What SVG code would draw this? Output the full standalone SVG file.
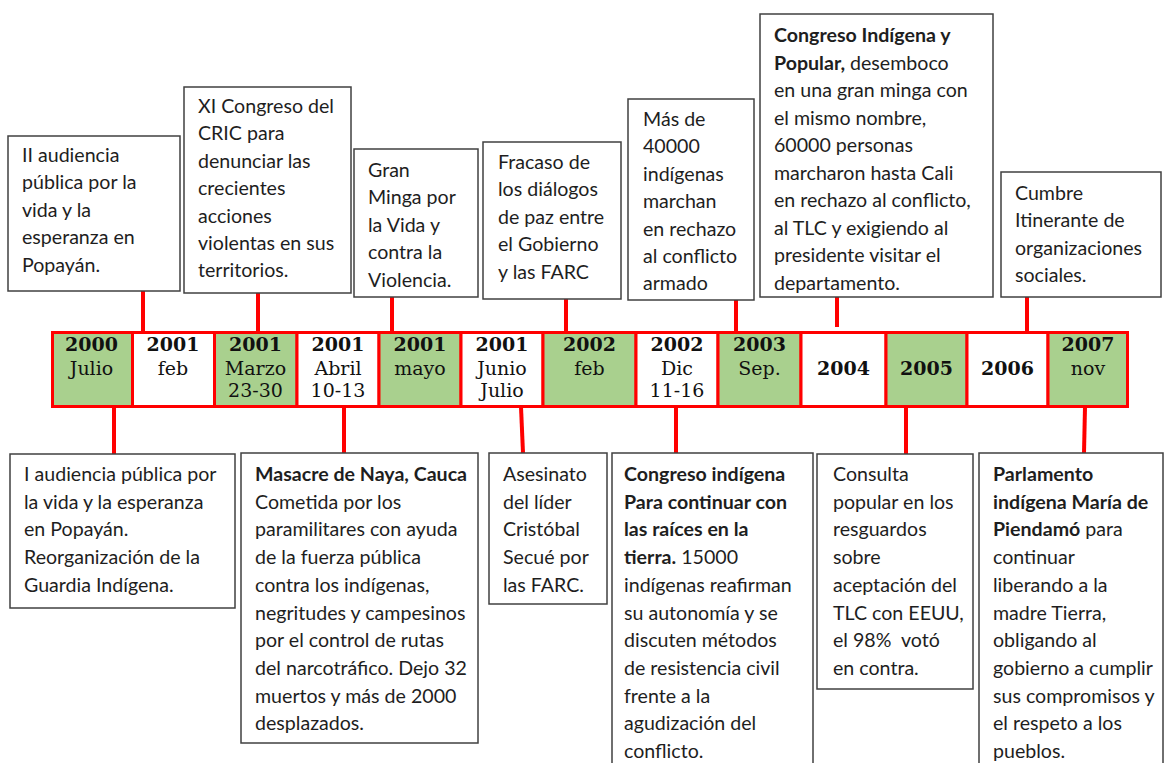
<svg xmlns="http://www.w3.org/2000/svg" width="1165" height="763" viewBox="0 0 1165 763">
<style>
.box{fill:#fff;stroke:#404040;stroke-width:1.5}
.t{font-family:Lato,"Open Sans","Liberation Sans",sans-serif;font-size:19.6px;fill:#1e1e1e}
.b{font-weight:bold}
.cell{stroke:#ff0000;stroke-width:3}
.g{fill:#a9d08e}
.w{fill:#fff}
.y{font-family:"DejaVu Serif","Liberation Serif",serif;font-size:19px;fill:#111;text-anchor:middle}
.yb{font-weight:bold}
.con{stroke:#ff0000;stroke-width:4;fill:none}
</style>
<rect width="1165" height="763" fill="#fff"/>
<g id="connectors">
<line class="con" x1="143" y1="290" x2="143" y2="332"/>
<line class="con" x1="258" y1="293" x2="258" y2="332"/>
<line class="con" x1="392" y1="297" x2="392" y2="332"/>
<line class="con" x1="566" y1="299" x2="566" y2="332"/>
<line class="con" x1="736" y1="300" x2="736" y2="332"/>
<line class="con" x1="837" y1="297" x2="837" y2="327"/>
<line class="con" x1="1027" y1="297" x2="1027" y2="332"/>
<line class="con" x1="114" y1="407" x2="114" y2="454"/>
<line class="con" x1="344" y1="407" x2="344" y2="453"/>
<line class="con" x1="521" y1="407" x2="523" y2="453"/>
<line class="con" x1="676" y1="407" x2="676" y2="453"/>
<line class="con" x1="906" y1="407" x2="906" y2="454"/>
<line class="con" x1="1085" y1="407" x2="1084" y2="453"/>
</g>
<g id="timeline">
<rect class="cell g" x="52.5" y="332.5" width="80" height="74"/>
<rect class="cell w" x="132.5" y="332.5" width="82" height="74"/>
<rect class="cell g" x="214.5" y="332.5" width="82.5" height="74"/>
<rect class="cell w" x="297" y="332.5" width="82" height="74"/>
<rect class="cell g" x="379" y="332.5" width="82" height="74"/>
<rect class="cell w" x="461" y="332.5" width="82" height="74"/>
<rect class="cell g" x="543" y="332.5" width="93" height="74"/>
<rect class="cell w" x="636" y="332.5" width="82" height="74"/>
<rect class="cell g" x="718" y="332.5" width="83" height="74"/>
<rect class="cell w" x="801" y="332.5" width="85" height="74"/>
<rect class="cell g" x="886" y="332.5" width="81" height="74"/>
<rect class="cell w" x="967" y="332.5" width="81" height="74"/>
<rect class="cell g" x="1048" y="332.5" width="79.5" height="74"/>
<text class="y yb" x="91.5" y="351">2000</text><text class="y" x="91.5" y="375">Julio</text>
<text class="y yb" x="173" y="351">2001</text><text class="y" x="173" y="375">feb</text>
<text class="y yb" x="255.5" y="351">2001</text><text class="y" x="255.5" y="375">Marzo</text><text class="y" x="255.5" y="397">23-30</text>
<text class="y yb" x="338" y="351">2001</text><text class="y" x="338" y="375">Abril</text><text class="y" x="338" y="397">10-13</text>
<text class="y yb" x="420" y="351">2001</text><text class="y" x="420" y="375">mayo</text>
<text class="y yb" x="502" y="351">2001</text><text class="y" x="502" y="375">Junio</text><text class="y" x="502" y="397">Julio</text>
<text class="y yb" x="589.5" y="351">2002</text><text class="y" x="589.5" y="375">feb</text>
<text class="y yb" x="677" y="351">2002</text><text class="y" x="677" y="375">Dic</text><text class="y" x="677" y="397">11-16</text>
<text class="y yb" x="759.5" y="351">2003</text><text class="y" x="759.5" y="375">Sep.</text>
<text class="y yb" x="843.5" y="375">2004</text>
<text class="y yb" x="926.5" y="375">2005</text>
<text class="y yb" x="1007.5" y="375">2006</text>
<text class="y yb" x="1088" y="351">2007</text><text class="y" x="1088" y="375">nov</text>
</g>
<g id="n1">
<rect class="box" x="8" y="136" width="172" height="155"/>
<text class="t" x="22" y="162"><tspan x="22">II audiencia</tspan><tspan x="22" dy="27.4">pública por la</tspan><tspan x="22" dy="27.4">vida y la</tspan><tspan x="22" dy="27.4">esperanza en</tspan><tspan x="22" dy="27.4">Popayán.</tspan></text>
</g>
<g id="n2">
<rect class="box" x="184" y="87" width="167" height="206"/>
<text class="t" x="198" y="113"><tspan x="198">XI Congreso del</tspan><tspan x="198" dy="27.4">CRIC para</tspan><tspan x="198" dy="27.4">denunciar las</tspan><tspan x="198" dy="27.4">crecientes</tspan><tspan x="198" dy="27.4">acciones</tspan><tspan x="198" dy="27.4">violentas en sus</tspan><tspan x="198" dy="27.4">territorios.</tspan></text>
</g>
<g id="n3">
<rect class="box" x="354" y="149" width="124" height="148"/>
<text class="t" x="368" y="177"><tspan x="368">Gran</tspan><tspan x="368" dy="27.4">Minga por</tspan><tspan x="368" dy="27.4">la Vida y</tspan><tspan x="368" dy="27.4">contra la</tspan><tspan x="368" dy="27.4">Violencia.</tspan></text>
</g>
<g id="n4">
<rect class="box" x="483" y="142" width="138" height="157"/>
<text class="t" x="498" y="169"><tspan x="498">Fracaso de</tspan><tspan x="498" dy="27.4">los diálogos</tspan><tspan x="498" dy="27.4">de paz entre</tspan><tspan x="498" dy="27.4">el Gobierno</tspan><tspan x="498" dy="27.4">y las FARC</tspan></text>
</g>
<g id="n5">
<rect class="box" x="628" y="99" width="126" height="201"/>
<text class="t" x="643" y="126"><tspan x="643">Más de</tspan><tspan x="643" dy="27.4">40000</tspan><tspan x="643" dy="27.4">indígenas</tspan><tspan x="643" dy="27.4">marchan</tspan><tspan x="643" dy="27.4">en rechazo</tspan><tspan x="643" dy="27.4">al conflicto</tspan><tspan x="643" dy="27.4">armado</tspan></text>
</g>
<g id="n6">
<rect class="box" x="760" y="14" width="233" height="283"/>
<text class="t" x="774" y="42"><tspan x="774" class="b">Congreso Indígena y</tspan><tspan x="774" dy="27.5" class="b">Popular,</tspan><tspan> desemboco</tspan><tspan x="774" dy="27.5">en una gran minga con</tspan><tspan x="774" dy="27.5">el mismo nombre,</tspan><tspan x="774" dy="27.5">60000 personas</tspan><tspan x="774" dy="27.5">marcharon hasta Cali</tspan><tspan x="774" dy="27.5">en rechazo al conflicto,</tspan><tspan x="774" dy="27.5">al TLC y exigiendo al</tspan><tspan x="774" dy="27.5">presidente visitar el</tspan><tspan x="774" dy="27.5">departamento.</tspan></text>
</g>
<g id="n7">
<rect class="box" x="1001" y="172" width="160" height="125"/>
<text class="t" x="1015" y="200"><tspan x="1015">Cumbre</tspan><tspan x="1015" dy="27.4">Itinerante de</tspan><tspan x="1015" dy="27.4">organizaciones</tspan><tspan x="1015" dy="27.4">sociales.</tspan></text>
</g>
<g id="n8">
<rect class="box" x="10" y="454" width="225" height="154"/>
<text class="t" x="24" y="481"><tspan x="24">I audiencia pública por</tspan><tspan x="24" dy="27.7">la vida y la esperanza</tspan><tspan x="24" dy="27.7">en Popayán.</tspan><tspan x="24" dy="27.7">Reorganización de la</tspan><tspan x="24" dy="27.7">Guardia Indígena.</tspan></text>
</g>
<g id="n9">
<rect class="box" x="241" y="453" width="237" height="290"/>
<text class="t" x="255" y="481"><tspan x="255" class="b">Masacre de Naya, Cauca</tspan><tspan x="255" dy="27.7">Cometida por los</tspan><tspan x="255" dy="27.7">paramilitares con ayuda</tspan><tspan x="255" dy="27.7">de la fuerza pública</tspan><tspan x="255" dy="27.7">contra los indígenas,</tspan><tspan x="255" dy="27.7">negritudes y campesinos</tspan><tspan x="255" dy="27.7">por el control de rutas</tspan><tspan x="255" dy="27.7">del narcotráfico. Dejo 32</tspan><tspan x="255" dy="27.7">muertos y más de 2000</tspan><tspan x="255" dy="27.7">desplazados.</tspan></text>
</g>
<g id="n10">
<rect class="box" x="489" y="453" width="118" height="151"/>
<text class="t" x="503" y="481"><tspan x="503">Asesinato</tspan><tspan x="503" dy="27.7">del líder</tspan><tspan x="503" dy="27.7">Cristóbal</tspan><tspan x="503" dy="27.7">Secué por</tspan><tspan x="503" dy="27.7">las FARC.</tspan></text>
</g>
<g id="n11">
<rect class="box" x="612" y="453" width="201" height="320"/>
<text class="t" x="624" y="481"><tspan x="624" class="b">Congreso indígena</tspan><tspan x="624" dy="27.7" class="b">Para continuar con</tspan><tspan x="624" dy="27.7" class="b">las raíces en la</tspan><tspan x="624" dy="27.7" class="b">tierra.</tspan><tspan> 15000</tspan><tspan x="624" dy="27.7">indígenas reafirman</tspan><tspan x="624" dy="27.7">su autonomía y se</tspan><tspan x="624" dy="27.7">discuten métodos</tspan><tspan x="624" dy="27.7">de resistencia civil</tspan><tspan x="624" dy="27.7">frente a la</tspan><tspan x="624" dy="27.7">agudización del</tspan><tspan x="624" dy="27.7">conflicto.</tspan></text>
</g>
<g id="n12">
<rect class="box" x="817" y="454" width="156" height="235"/>
<text class="t" x="833" y="481"><tspan x="833">Consulta</tspan><tspan x="833" dy="27.7">popular en los</tspan><tspan x="833" dy="27.7">resguardos</tspan><tspan x="833" dy="27.7">sobre</tspan><tspan x="833" dy="27.7">aceptación del</tspan><tspan x="833" dy="27.7">TLC con EEUU,</tspan><tspan x="833" dy="27.7">el 98%&#160; votó</tspan><tspan x="833" dy="27.7">en contra.</tspan></text>
</g>
<g id="n13">
<rect class="box" x="979" y="453" width="184" height="320"/>
<text class="t" x="993" y="481"><tspan x="993" class="b">Parlamento</tspan><tspan x="993" dy="27.7" class="b">indígena María de</tspan><tspan x="993" dy="27.7" class="b">Piendamó</tspan><tspan> para</tspan><tspan x="993" dy="27.7">continuar</tspan><tspan x="993" dy="27.7">liberando a la</tspan><tspan x="993" dy="27.7">madre Tierra,</tspan><tspan x="993" dy="27.7">obligando al</tspan><tspan x="993" dy="27.7">gobierno a cumplir</tspan><tspan x="993" dy="27.7">sus compromisos y</tspan><tspan x="993" dy="27.7">el respeto a los</tspan><tspan x="993" dy="27.7">pueblos.</tspan></text>
</g>
</svg>
